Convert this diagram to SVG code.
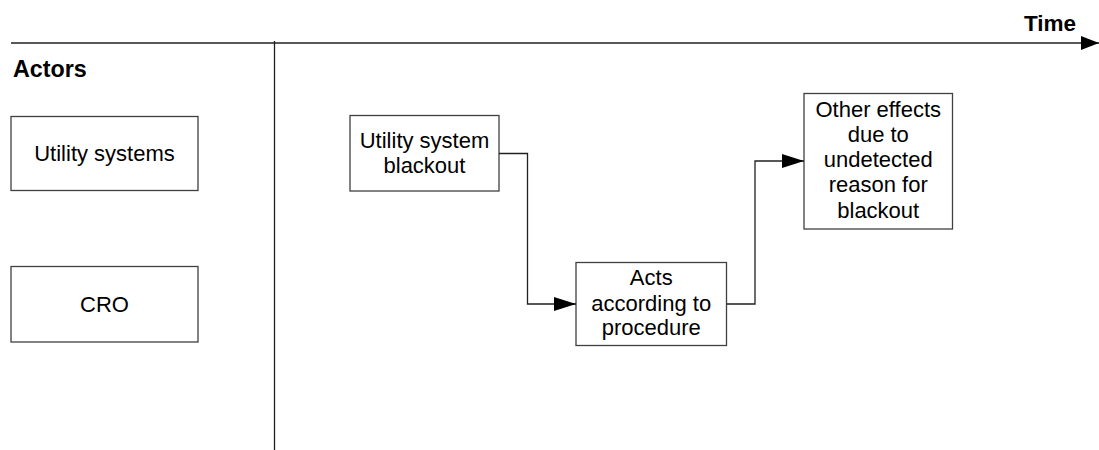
<svg xmlns="http://www.w3.org/2000/svg" width="1099" height="450" viewBox="0 0 1099 450">
  <style>
    .box { fill: #ffffff; stroke: #404040; stroke-width: 1.3; }
    .line { fill: none; stroke: #202020; stroke-width: 1.3; }
    .label { font-family: "Liberation Sans", Arial, sans-serif; font-size: 22px; fill: #000000; text-anchor: middle; }
    .heading { font-family: "Liberation Sans", Arial, sans-serif; font-weight: bold; fill: #000000; }
  </style>
  <defs>
    <marker id="arrow" markerWidth="22" markerHeight="14" refX="22" refY="7" orient="auto" markerUnits="userSpaceOnUse">
      <path d="M0,0 L22,7 L0,14 Z" fill="#000000"/>
    </marker>
    <marker id="axis-arrow" markerWidth="18" markerHeight="14" refX="18" refY="7" orient="auto" markerUnits="userSpaceOnUse">
      <path d="M0,0 L18,7 L0,14 Z" fill="#000000"/>
    </marker>
  </defs>

  <rect width="1099" height="450" fill="#ffffff"/>

  <!-- axes: time line and actor divider -->
  <g id="axes">
    <line class="line" x1="11" y1="43" x2="1099" y2="43" marker-end="url(#axis-arrow)"/>
    <line class="line" x1="274.5" y1="41" x2="274.5" y2="450"/>
    <text class="heading" x="1076" y="31" font-size="22.5" text-anchor="end">Time</text>
    <text class="heading" x="13" y="77" font-size="23.3">Actors</text>
  </g>

  <!-- actor boxes -->
  <g id="actor-utility">
    <rect class="box" x="11" y="116.5" width="187" height="74"/>
    <text class="label" x="104.5" y="160.5">Utility systems</text>
  </g>
  <g id="actor-cro">
    <rect class="box" x="11" y="266.5" width="187" height="75.5"/>
    <text class="label" x="104.5" y="312">CRO</text>
  </g>

  <!-- events -->
  <g id="event-blackout">
    <rect class="box" x="350" y="115.5" width="149" height="75.5"/>
    <text class="label" x="424.5" y="148">Utility system</text>
    <text class="label" x="424.5" y="173">blackout</text>
  </g>
  <g id="event-procedure">
    <rect class="box" x="576" y="262.5" width="150.5" height="83"/>
    <text class="label" x="651.25" y="285">Acts</text>
    <text class="label" x="651.25" y="310.5">according to</text>
    <text class="label" x="651.25" y="334.5">procedure</text>
  </g>
  <g id="event-other-effects">
    <rect class="box" x="804" y="93.5" width="148.5" height="135.5"/>
    <text class="label" x="878.25" y="117">Other effects</text>
    <text class="label" x="878.25" y="142">due to</text>
    <text class="label" x="878.25" y="167">undetected</text>
    <text class="label" x="878.25" y="192">reason for</text>
    <text class="label" x="878.25" y="217.5">blackout</text>
  </g>

  <!-- connectors -->
  <g id="connectors">
    <polyline class="line" points="499,153.5 527.5,153.5 527.5,304 576,304" marker-end="url(#arrow)"/>
    <polyline class="line" points="726.5,304 755,304 755,161 804,161" marker-end="url(#arrow)"/>
  </g>
</svg>
